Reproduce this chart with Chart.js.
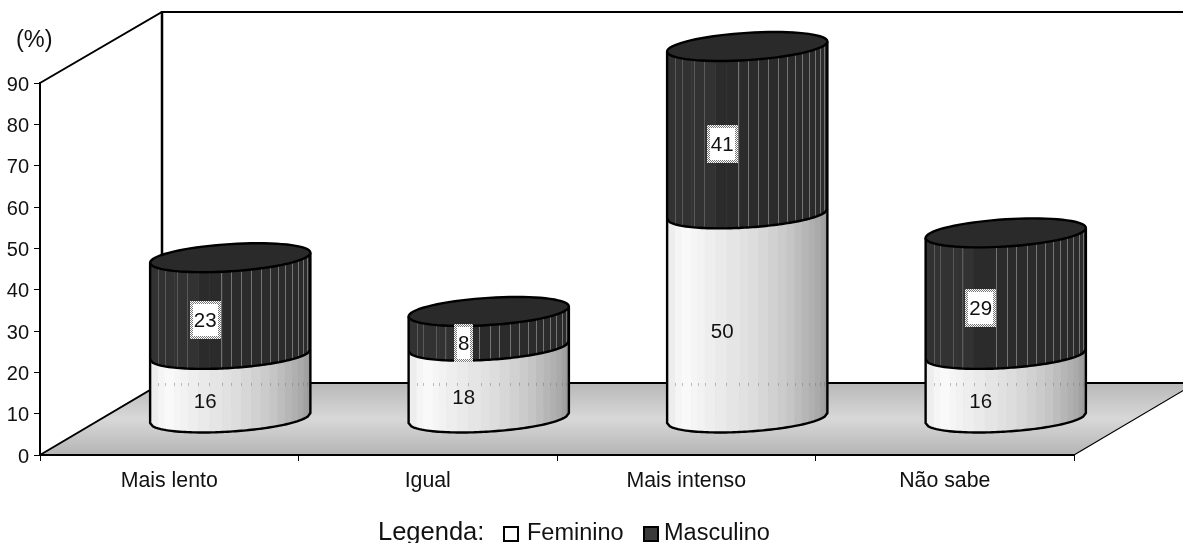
<!DOCTYPE html>
<html>
<head>
<meta charset="utf-8">
<title>Chart</title>
<script src="https://cdn.jsdelivr.net/npm/chart.js@4"></script>
<style>
  html, body { margin: 0; padding: 0; background: #fff; overflow: hidden; }
  canvas { display: block; }
</style>
</head>
<body>
<canvas id="myChart" width="1183" height="543"></canvas>
<script>
const categories = ['Mais lento', 'Igual', 'Mais intenso', 'Não sabe'];
const feminino = [15.5, 17.5, 49.5, 15.5];
const masculino = [23.4, 8.4, 40.5, 29.4];
const yTicks = [0, 10, 20, 30, 40, 50, 60, 70, 80, 90];

const FONT = '"Liberation Sans", Arial, sans-serif';
const depthX = 122, depthY = 72;
// where the vertical facets of the cylinder fall, 0 = left edge, 1 = right edge
const facets = [0, .05, .09, .15, .19, .235, .30, .37, .45, .505, .567, .63, .69, .745, .795, .84, .885, .92, .955, .98, 1];
// thin light lines on the dark part
const darkLines = [.05, .09, .17, .23, .44, .505, .567, .63, .69, .745, .795, .84, .885, .92, .955, .98];
const lightStops = [[0, 232], [.1, 250], [.3, 236], [.5, 224], [.75, 200], [.95, 168], [1, 150]];

function shade(f) {
    for (let i = 1; i < lightStops.length; i++) {
        if (f <= lightStops[i][0]) {
            const a = lightStops[i - 1], b = lightStops[i];
            const v = Math.round(a[1] + (b[1] - a[1]) * (f - a[0]) / (b[0] - a[0]));
            return 'rgb(' + v + ',' + v + ',' + v + ')';
        }
    }
    return '#999';
}

// front edge of the tilted ellipse at fraction f of the width
function frontY(cy, f) {
    const c = 2 * f - 1;
    return cy + 13.6 * Math.sqrt(Math.max(0, 1 - c * c)) - 5 * c;
}

function frontCurve(ctx, cx, cy, a) {
    for (let i = 0; i <= 60; i++) {
        const f = i / 60;
        ctx.lineTo(cx - a + 2 * a * f, frontY(cy, f));
    }
}

function drawSide(ctx, cx, yBase, yTop, a, dark) {
    for (let i = 0; i < facets.length - 1; i++) {
        const f0 = facets[i], f1 = facets[i + 1];
        ctx.fillStyle = dark ? (f0 < .3 ? '#323232' : '#2b2b2b') : shade((f0 + f1) / 2);
        ctx.beginPath();
        for (let k = 0; k <= 6; k++) {
            const f = f0 + (f1 - f0) * k / 6;
            ctx.lineTo(cx - a + 2 * a * f + (k === 6 ? .5 : 0), frontY(yBase, f));
        }
        for (let k = 6; k >= 0; k--) {
            const f = f0 + (f1 - f0) * k / 6;
            ctx.lineTo(cx - a + 2 * a * f + (k === 6 ? .5 : 0), frontY(yTop, f));
        }
        ctx.closePath();
        ctx.fill();
    }
    if (dark) {
        ctx.lineWidth = 1;
        darkLines.forEach(function (f) {
            const x = Math.round(cx - a + 2 * a * f) + .5;
            ctx.strokeStyle = f < .3 ? '#5a5a5a' : '#747474';
            ctx.beginPath();
            ctx.moveTo(x, frontY(yBase, f));
            ctx.lineTo(x, frontY(yTop, f));
            ctx.stroke();
        });
    }
}

function checker() {
    const c = document.createElement('canvas');
    c.width = c.height = 2;
    const g = c.getContext('2d');
    g.fillStyle = '#fff';
    g.fillRect(0, 0, 2, 2);
    g.fillStyle = '#777';
    g.fillRect(0, 0, 1, 1);
    g.fillRect(1, 1, 1, 1);
    return c;
}

let yLabelsMoved = false;

const cylinders = {
    id: 'cylinders',
    beforeDraw(chart) {
        const ctx = chart.ctx, area = chart.chartArea;
        const x0 = area.left, y0 = area.bottom, x1 = area.right, yt = area.top;
        const bx = x0 + depthX, by = y0 - depthY;
        // tick digits sit a bit below the tick marks in the original
        if (!yLabelsMoved) {
            chart.scales.y.getLabelItems(area).forEach(function (item) {
                item.options.translation[1] += 2;
            });
            yLabelsMoved = true;
        }
        ctx.save();
        ctx.fillStyle = '#fff';
        ctx.fillRect(0, 0, chart.width, chart.height);

        const g = ctx.createLinearGradient(0, by, 0, y0);
        g.addColorStop(0, '#b8b8b8');
        g.addColorStop(.5, '#d8d8d8');
        g.addColorStop(1, '#b4b4b4');
        ctx.fillStyle = g;
        ctx.beginPath();
        ctx.moveTo(x0, y0);
        ctx.lineTo(x1, y0);
        ctx.lineTo(x1 + depthX, by);
        ctx.lineTo(bx, by);
        ctx.closePath();
        ctx.fill();

        ctx.strokeStyle = '#000';
        ctx.lineWidth = 1.2;
        ctx.beginPath();
        ctx.moveTo(x1, y0);
        ctx.lineTo(x1 + depthX, by);
        ctx.stroke();

        ctx.lineWidth = 2;
        ctx.beginPath();
        ctx.moveTo(x0, y0);
        ctx.lineTo(bx, by);
        ctx.lineTo(chart.width, by);
        ctx.moveTo(x0, yt);
        ctx.lineTo(bx, yt - depthY + 1);
        ctx.lineTo(chart.width, yt - depthY + 1);
        ctx.stroke();
        ctx.lineWidth = 2.5;
        ctx.beginPath();
        ctx.moveTo(bx, yt - depthY);
        ctx.lineTo(bx, by);
        ctx.stroke();
        ctx.restore();
    },
    afterDatasetsDraw(chart) {
        const ctx = chart.ctx, area = chart.chartArea;
        const floorBack = area.bottom - depthY;
        const fem = chart.getDatasetMeta(0).data, mas = chart.getDatasetMeta(1).data;
        const pattern = ctx.createPattern(checker(), 'repeat');
        ctx.save();
        categories.forEach(function (name, i) {
            const a = fem[i].width / 2;
            const cx = fem[i].x + depthX / 2;
            const yBase = fem[i].base - depthY / 2 - .5;
            const yMid = fem[i].y - depthY / 2 - .5;
            const yTop = mas[i].y - depthY / 2 - .5;

            drawSide(ctx, cx, yBase, yMid, a, false);
            // back edge of the floor shows through the light part as faint dots
            if (yMid < floorBack) {
                ctx.fillStyle = 'rgba(120,120,120,.45)';
                facets.slice(1, -1).forEach(function (f) {
                    ctx.fillRect(Math.round(cx - a + 2 * a * f), floorBack, 1, 3);
                });
            }
            drawSide(ctx, cx, yMid, yTop, a, true);

            ctx.strokeStyle = '#000';
            ctx.lineWidth = 2.4;
            ctx.beginPath();
            ctx.moveTo(cx - a, yTop + 5);
            ctx.lineTo(cx - a, yBase + 5);
            frontCurve(ctx, cx, yBase, a);
            ctx.lineTo(cx + a, yTop - 5);
            ctx.stroke();
            ctx.beginPath();
            frontCurve(ctx, cx, yMid, a);
            ctx.stroke();

            // top of the cylinder
            ctx.fillStyle = '#2a2a2a';
            ctx.beginPath();
            for (let k = 0; k <= 72; k++) {
                const t = k / 72 * Math.PI * 2;
                ctx.lineTo(cx + a * Math.cos(t), yTop + 13.6 * Math.sin(t) - 5 * Math.cos(t));
            }
            ctx.closePath();
            ctx.fill();
            ctx.stroke();

            // value labels
            ctx.font = '20.5px ' + FONT;
            ctx.textAlign = 'center';
            ctx.textBaseline = 'middle';
            const lx = cx - 25;
            const txtF = String(Math.round(feminino[i]));
            const txtM = String(Math.round(masculino[i]));
            ctx.fillStyle = '#111';
            ctx.fillText(txtF, lx, (yBase + yMid) / 2 + 16);
            const ly = (yMid + yTop) / 2 + 14;
            const w = ctx.measureText(txtM).width + 8, h = 38;
            const bx = Math.round(lx - w / 2), by = Math.round(ly - h / 2);
            ctx.fillStyle = pattern;
            ctx.fillRect(bx, by, Math.round(w), h);
            ctx.fillStyle = '#fff';
            ctx.fillRect(bx + 3, by + 3, Math.round(w) - 6, h - 6);
            ctx.fillStyle = '#111';
            ctx.fillText(txtM, lx, ly + 1.5);
        });

        // unit label and legend
        ctx.fillStyle = '#111';
        ctx.textAlign = 'left';
        ctx.textBaseline = 'alphabetic';
        ctx.font = '23.5px ' + FONT;
        ctx.fillText('(%)', 16, 47);
        ctx.fillText(chart.data.datasets[0].label, 527, 540);
        ctx.fillText(chart.data.datasets[1].label, 664, 540);
        ctx.font = '25.5px ' + FONT;
        ctx.fillText('Legenda:', 378, 540);
        ctx.strokeStyle = '#000';
        ctx.lineWidth = 2;
        ctx.fillStyle = '#fff';
        ctx.fillRect(504, 527, 14, 14);
        ctx.strokeRect(504, 527, 14, 14);
        ctx.fillStyle = '#3a3a3a';
        ctx.fillRect(644, 527, 14, 14);
        ctx.strokeRect(644, 527, 14, 14);
        ctx.restore();
    }
};

new Chart(document.getElementById('myChart'), {
    type: 'bar',
    data: {
        labels: categories,
        datasets: [
            { label: 'Feminino', data: feminino, backgroundColor: 'rgba(0,0,0,0)', categoryPercentage: 1, barPercentage: 0.62 },
            { label: 'Masculino', data: masculino, backgroundColor: 'rgba(0,0,0,0)', categoryPercentage: 1, barPercentage: 0.62 }
        ]
    },
    options: {
        responsive: false,
        animation: false,
        layout: { padding: { top: 83, right: 109, left: 0, bottom: 0 } },
        plugins: { legend: { display: false }, tooltip: { enabled: false } },
        scales: {
            x: {
                stacked: true,
                afterFit: function (s) { s.height = 88; },
                border: { color: '#000', width: 2 },
                grid: { drawOnChartArea: false, color: '#000', tickLength: 6, lineWidth: 1 },
                ticks: { color: '#111', padding: 7, maxRotation: 0, font: { family: FONT, size: 21.3 } }
            },
            y: {
                stacked: true,
                min: 0,
                max: 90,
                afterFit: function (s) { s.width = 40; },
                afterBuildTicks: function (s) { s.ticks = yTicks.map(function (v) { return { value: v }; }); },
                border: { color: '#000', width: 2 },
                grid: { drawOnChartArea: false, color: '#000', tickLength: 6, lineWidth: 1 },
                ticks: { color: '#111', padding: 5, font: { family: FONT, size: 20 } }
            }
        }
    },
    plugins: [cylinders]
});
</script>
</body>
</html>
